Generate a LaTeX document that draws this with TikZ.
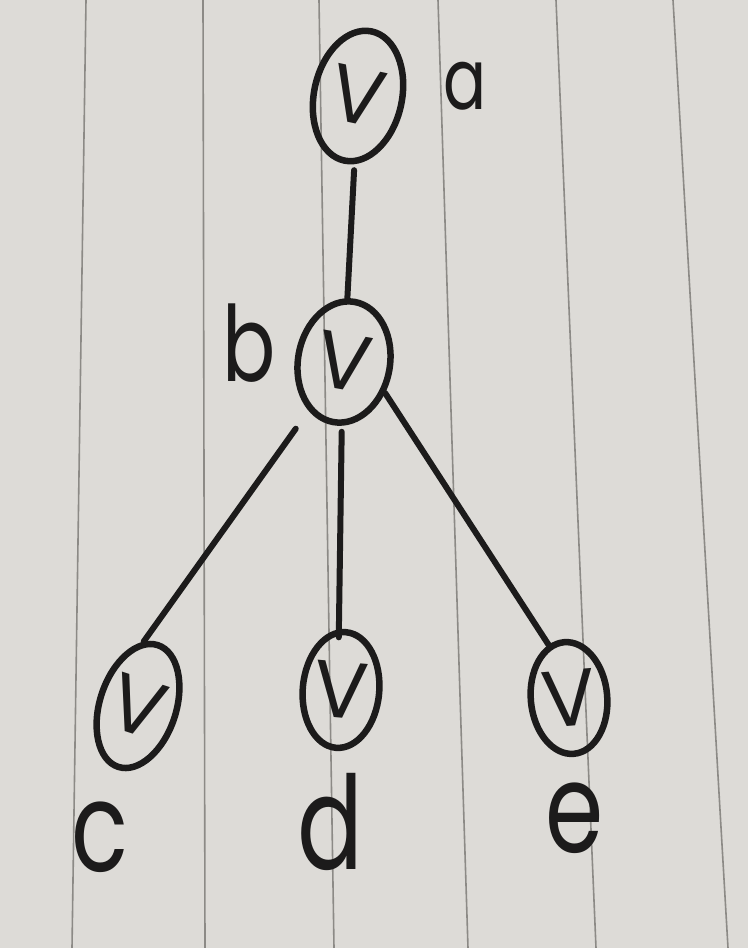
\documentclass[tikz,border=0pt]{standalone}
\usepackage{fontspec}
\newfontfamily\hand{Poppins}
\usetikzlibrary{shapes.geometric}
\definecolor{paper}{RGB}{221,219,215}
\definecolor{rulecol}{RGB}{140,138,134}
\definecolor{ink}{RGB}{28,27,27}
\begin{document}
\begin{tikzpicture}[x=1pt,y=-1pt,
  vert/.style={draw=ink, line width=6.5pt, ellipse, inner sep=0pt, text=ink,
    font=\hand\fontsize{80}{80}\selectfont},
  lab/.style={text=ink, inner sep=0pt, xscale=0.75},
  edge/.style={draw=ink, line width=6pt, line cap=round},
  paperline/.style={draw=rulecol, line width=1.6pt}]
\useasboundingbox (0,0) rectangle (748,948);
\fill[paper] (0,0) rectangle (748,948);
% ruled paper lines
\draw[paperline] (86,0) -- (72,948);
\draw[paperline] (203,0) -- (205,948);
\draw[paperline] (319,0) -- (334,948);
\draw[paperline] (438,0) -- (468,948);
\draw[paperline] (556,0) -- (596,948);
\draw[paperline] (673,0) -- (728,948);
% vertices
\node[vert, minimum width=88, minimum height=132, rotate=-12] (a) at (358,96) {V};
\node[vert, minimum width=92, minimum height=122, rotate=-10] (b) at (344,362) {V};
\node[vert, minimum width=76, minimum height=128, rotate=-18] (c) at (138,706) {V};
\node[vert, minimum width=58, minimum height=116, rotate=-5] (d) at (341,690) {V};
\node[vert, minimum width=72, minimum height=112, rotate=5] (e) at (569,698) {V};
% labels
\node[lab, font=\hand\fontsize{85}{85}\selectfont] (la) at (465,86) {a};
\node[lab, font=\hand\fontsize{105}{105}\selectfont] (lb) at (249,343) {b};
\node[lab, font=\hand\fontsize{125}{125}\selectfont] (lc) at (100,837) {c};
\node[lab, font=\hand\fontsize{130}{130}\selectfont] (ld) at (330,822) {d};
\node[lab, font=\hand\fontsize{125}{125}\selectfont] (le) at (575,818) {e};
% edges
\draw[edge, shorten <=6pt] (a) -- (b);
\draw[edge, shorten <=22pt] (b.244) -- (c.103);
\draw[edge, shorten <=6pt, shorten >=-8pt] (b.278) -- (d.97);
\draw[edge] (b.333) -- (e.106);
\end{tikzpicture}
\end{document}
